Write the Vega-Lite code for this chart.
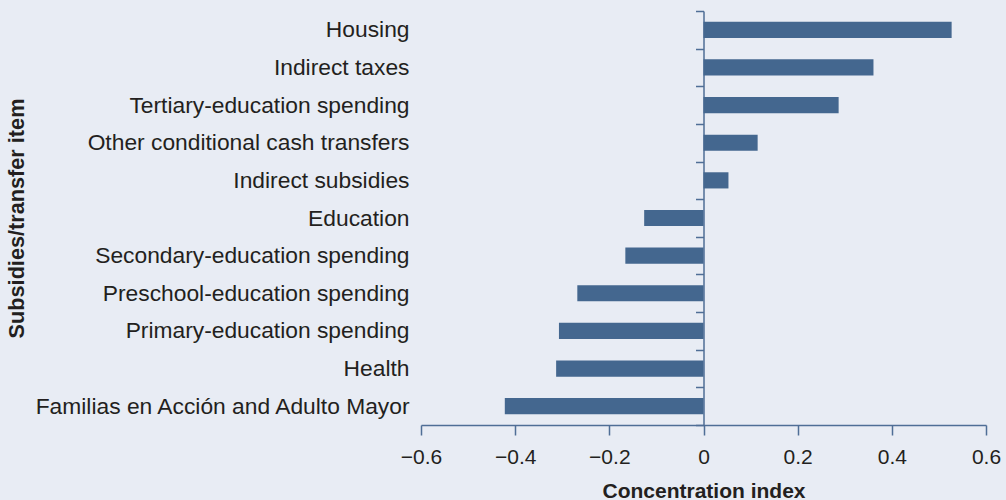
{
  "$schema": "https://vega.github.io/schema/vega-lite/v6.json",
  "width": 565,
  "height": 414,
  "autosize": {"type": "none"},
  "padding": {"left": 421, "top": 11, "right": 20, "bottom": 75},
  "background": "#E8ECF4",
  "config": {"view": {"stroke": null}},
  "data": {
    "values": [
      {"item": "Housing", "value": 0.527},
      {"item": "Indirect taxes", "value": 0.361},
      {"item": "Tertiary-education spending", "value": 0.287},
      {"item": "Other conditional cash transfers", "value": 0.115},
      {"item": "Indirect subsidies", "value": 0.053},
      {"item": "Education", "value": -0.126},
      {"item": "Secondary-education spending", "value": -0.166},
      {"item": "Preschool-education spending", "value": -0.268},
      {"item": "Primary-education spending", "value": -0.307},
      {"item": "Health", "value": -0.313},
      {"item": "Familias en Acción and Adulto Mayor", "value": -0.422}
    ]
  },
  "mark": {"type": "bar", "color": "#44678F", "height": {"band": 0.43}},
  "encoding": {
    "y": {
      "field": "item",
      "type": "nominal",
      "sort": null,
      "scale": {"paddingInner": 0, "paddingOuter": 0},
      "axis": {
        "orient": "left",
        "offset": -282.5,
        "tickBand": "extent",
        "tickSize": 8,
        "tickWidth": 1.5,
        "tickColor": "#4F6E96",
        "domainColor": "#4F6E96",
        "domainWidth": 1.5,
        "labelPadding": 286.5,
        "labelFont": "Liberation Sans",
        "labelFontSize": 22.8,
        "labelColor": "#231F20",
        "labelLimit": 500,
        "grid": false,
        "title": "Subsidies/transfer item",
        "titleFont": "Liberation Sans",
        "titleFontSize": 21.7,
        "titleFontWeight": "bold",
        "titleColor": "#231F20",
        "titleAngle": -90,
        "titleX": -680,
        "titleY": 207,
        "titleAlign": "center",
        "titleBaseline": "alphabetic"
      }
    },
    "x": {
      "field": "value",
      "type": "quantitative",
      "scale": {"domain": [-0.6, 0.6], "nice": false, "zero": false},
      "axis": {
        "values": [-0.6, -0.4, -0.2, 0, 0.2, 0.4, 0.6],
        "labelExpr": "datum.value === 0 ? '0' : replace(format(datum.value, '.1f'), '-', '–')",
        "grid": false,
        "tickSize": 10,
        "tickWidth": 1.5,
        "tickColor": "#4F6E96",
        "domainColor": "#4F6E96",
        "domainWidth": 1.5,
        "labelPadding": 11,
        "labelFont": "Liberation Sans",
        "labelFontSize": 21,
        "labelColor": "#231F20",
        "labelFlush": false,
        "title": "Concentration index",
        "titleFont": "Liberation Sans",
        "titleFontSize": 21,
        "titleFontWeight": "bold",
        "titleColor": "#231F20",
        "titleBaseline": "alphabetic",
        "titleY": 72
      }
    }
  }
}
